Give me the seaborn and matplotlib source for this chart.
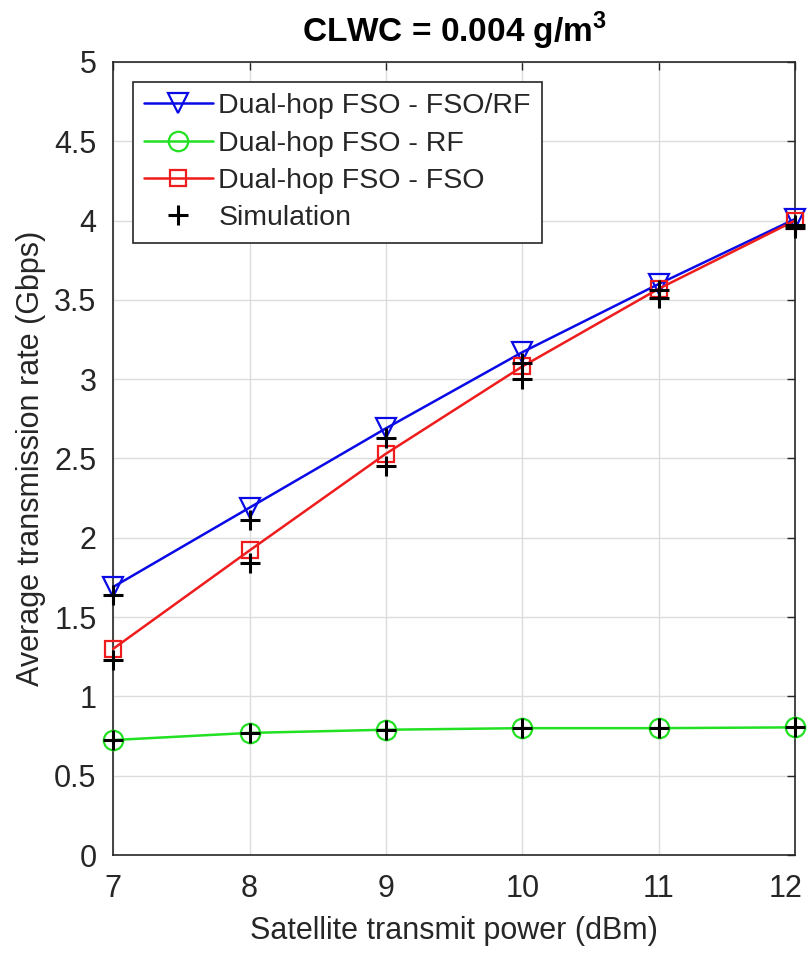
import matplotlib
matplotlib.use("Agg")
import matplotlib.pyplot as plt
import matplotlib.transforms as mtransforms
import seaborn as sns
import pandas as pd

power_dbm = [7, 8, 9, 10, 11, 12]
rate_fso_rf = [1.69, 2.19, 2.69, 3.17, 3.60, 4.01]
rate_rf = [0.725, 0.77, 0.79, 0.80, 0.80, 0.805]
rate_fso = [1.30, 1.92, 2.53, 3.08, 3.57, 4.00]
sim_fso_rf = [1.64, 2.11, 2.63, 3.10, 3.56, 3.97]
sim_rf = [0.725, 0.77, 0.79, 0.80, 0.80, 0.805]
sim_fso = [1.23, 1.84, 2.45, 3.00, 3.51, 3.95]

labels = ["Dual-hop FSO - FSO/RF", "Dual-hop FSO - RF", "Dual-hop FSO - FSO", "Simulation"]
x_ticks = [7, 8, 9, 10, 11, 12]
y_ticks = [0, 0.5, 1, 1.5, 2, 2.5, 3, 3.5, 4, 4.5, 5]
y_ticklabels = ["0", "0.5", "1", "1.5", "2", "2.5", "3", "3.5", "4", "4.5", "5"]

sns.set_style("white")
plt.rcParams["font.family"] = ["Liberation Sans", "DejaVu Sans"]
plt.rcParams["mathtext.fontset"] = "custom"
plt.rcParams["mathtext.rm"] = "Liberation Sans"
plt.rcParams["mathtext.bf"] = "Liberation Sans:bold"

txt = "#262626"
fig = plt.figure(figsize=(8.08, 9.56), dpi=100)
ax = fig.add_axes([0.14, 0.1056, 0.844, 0.8296])

series = [
    (rate_fso_rf, "#0a0ae6", "v", 14, labels[0]),
    (rate_rf, "#22e022", "o", 14, labels[1]),
    (rate_fso, "#ee1c1c", "s", 12, labels[2]),
]
for vals, col, mk, ms, lab in series:
    df = pd.DataFrame({"x": power_dbm, "y": vals})
    sns.lineplot(data=df, x="x", y="y", ax=ax, color=col, marker=mk, markersize=ms,
                 markerfacecolor="none", markeredgecolor=col, markeredgewidth=1.6,
                 linewidth=1.8, label=lab, clip_on=False, zorder=3)

sim_x = power_dbm * 3
sim_y = sim_fso_rf + sim_rf + sim_fso
dfs = pd.DataFrame({"x": sim_x, "y": sim_y})
sns.lineplot(data=dfs, x="x", y="y", ax=ax, color="black", marker="+", markersize=15,
             markeredgewidth=2.2, markeredgecolor="black", linestyle="", estimator=None,
             sort=False, label=labels[3], clip_on=False, zorder=4)

ax.set_xlim(7, 12)
ax.set_ylim(0, 5)
ax.set_xticks(x_ticks)
ax.set_yticks(y_ticks)
ax.set_yticklabels(y_ticklabels)
ax.grid(True, color="#dcdcdc", linewidth=1.0)
ax.tick_params(direction="in", length=6, width=1, colors=txt, labelsize=22,
               top=True, right=True, labelcolor=txt)
ax.tick_params(axis="x", pad=14)
ax.tick_params(axis="y", pad=12)
for s in ax.spines.values():
    s.set_color(txt)
    s.set_linewidth(1.2)
    s.set_visible(True)

# nudge the last x tick label inward so it stays inside the figure
last = ax.get_xticklabels()[-1]
last.set_transform(last.get_transform() + mtransforms.ScaledTranslation(-7 / 72, 0, fig.dpi_scale_trans))

ax.set_xlabel("Satellite transmit power (dBm)", fontsize=22, color=txt, labelpad=8)
ax.set_ylabel("Average transmission rate (Gbps)", fontsize=22, color=txt, labelpad=6)
ax.set_title(r"CLWC = 0.004 g/m$^\mathbf{3}$", fontsize=24, fontweight="bold", color="black", pad=14)

leg = ax.legend(loc="upper left", bbox_to_anchor=(0.029, 0.975), fontsize=20.5, frameon=True,
                fancybox=False, edgecolor=txt, framealpha=1, handlelength=2.4,
                handletextpad=0.2, labelspacing=0.4, borderpad=0.4, borderaxespad=0)
leg.get_frame().set_linewidth(1.2)

fig.savefig("out.png", dpi=100)
